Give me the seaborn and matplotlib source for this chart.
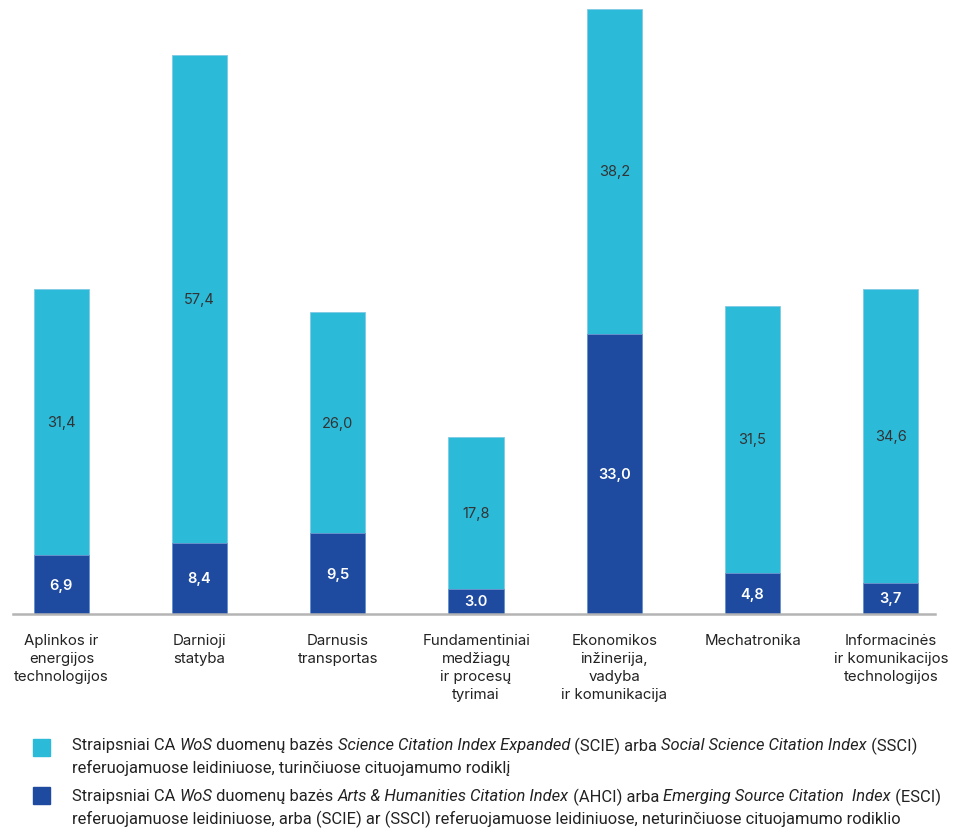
import seaborn as sns
import matplotlib.pyplot as plt
from matplotlib.patches import Rectangle

categories = [
    "Aplinkos ir\nenergijos\ntechnologijos",
    "Darnioji\nstatyba",
    "Darnusis\ntransportas",
    "Fundamentiniai\nmedžiagų\nir procesų\ntyrimai",
    "Ekonomikos\ninžinerija,\nvadyba\nir komunikacija",
    "Mechatronika",
    "Informacinės\nir komunikacijos\ntechnologijos",
]
scie_ssci = [31.4, 57.4, 26.0, 17.8, 38.2, 31.5, 34.6]
ahci_esci = [6.9, 8.4, 9.5, 3.0, 33.0, 4.8, 3.7]
scie_labels = ["31,4", "57,4", "26,0", "17,8", "38,2", "31,5", "34,6"]
ahci_labels = ["6,9", "8,4", "9,5", "3.0", "33,0", "4,8", "3,7"]

legend_rows = [
    [
        [("Straipsniai CA ", False), ("WoS", True), (" duomenų bazės ", False),
         ("Science Citation Index Expanded", True), (" (SCIE) arba ", False),
         ("Social Science Citation Index", True), (" (SSCI)", False)],
        [("referuojamuose leidiniuose, turinčiuose cituojamumo rodiklį", False)],
    ],
    [
        [("Straipsniai CA ", False), ("WoS", True), (" duomenų bazės ", False),
         ("Arts & Humanities Citation Index", True), (" (AHCI) arba ", False),
         ("Emerging Source Citation  Index", True), (" (ESCI)", False)],
        [("referuojamuose leidiniuose, arba (SCIE) ar (SSCI) referuojamuose "
          "leidiniuose, neturinčiuose cituojamumo rodiklio", False)],
    ],
]

light = "#2cbad9"
dark = "#1e4ba0"

sns.set_style("white")
plt.rcParams["font.family"] = ["Inter", "DejaVu Sans"]

totals = [a + b for a, b in zip(scie_ssci, ahci_esci)]

fig = plt.figure(figsize=(9.57, 8.29), dpi=100)
ax = fig.add_axes([13 / 957, (829 - 615) / 829, 922 / 957, 605 / 829])

sns.barplot(x=categories, y=totals, color=light, width=0.4, saturation=1,
            edgecolor="#7fc9e6", linewidth=0.6, ax=ax)
sns.barplot(x=categories, y=ahci_esci, color=dark, width=0.4, saturation=1,
            edgecolor="#6f95d0", linewidth=0.6, ax=ax)

for i in range(len(categories)):
    ax.text(i, ahci_esci[i] + scie_ssci[i] / 2, scie_labels[i], ha="center",
            va="center", fontsize=10.5, color="#333333")
    ax.text(i, ahci_esci[i] / 2, ahci_labels[i], ha="center", va="center",
            fontsize=10.5, color="white", fontweight="semibold")

ax.set_xlim(-0.35, 6.32)
ax.set_ylim(0, max(totals))
ax.set_yticks([])
ax.set_ylabel("")
sns.despine(ax=ax, left=True)
ax.spines["bottom"].set_color("#b4b4b4")
ax.spines["bottom"].set_linewidth(1.8)
ax.tick_params(axis="x", length=0, pad=14, labelsize=10.8, colors="#222222")
for lab in ax.get_xticklabels():
    lab.set_linespacing(1.35)

# legend
sq_y = [740, 788]
row_y = [[746, 768], [797, 819]]
for k, color in enumerate([light, dark]):
    fig.patches.append(Rectangle((33 / 957, 1 - (sq_y[k] + 17) / 829),
                                 17 / 957, 17 / 829, transform=fig.transFigure,
                                 color=color))
    for j, segs in enumerate(legend_rows[k]):
        prev = None
        for txt, it in segs:
            style = "italic" if it else "normal"
            if prev is None:
                prev = fig.text(72 / 957, 1 - row_y[k][j] / 829, txt,
                                ha="left", va="center", fontsize=11.85,
                                style=style, color="#222222", family="Roboto")
            else:
                prev = ax.annotate(txt, xy=(1, 0.5), xycoords=prev,
                                   ha="left", va="center", fontsize=11.85,
                                   style=style, color="#222222",
                                   family="Roboto", annotation_clip=False)

fig.savefig("out.png", dpi=100)
